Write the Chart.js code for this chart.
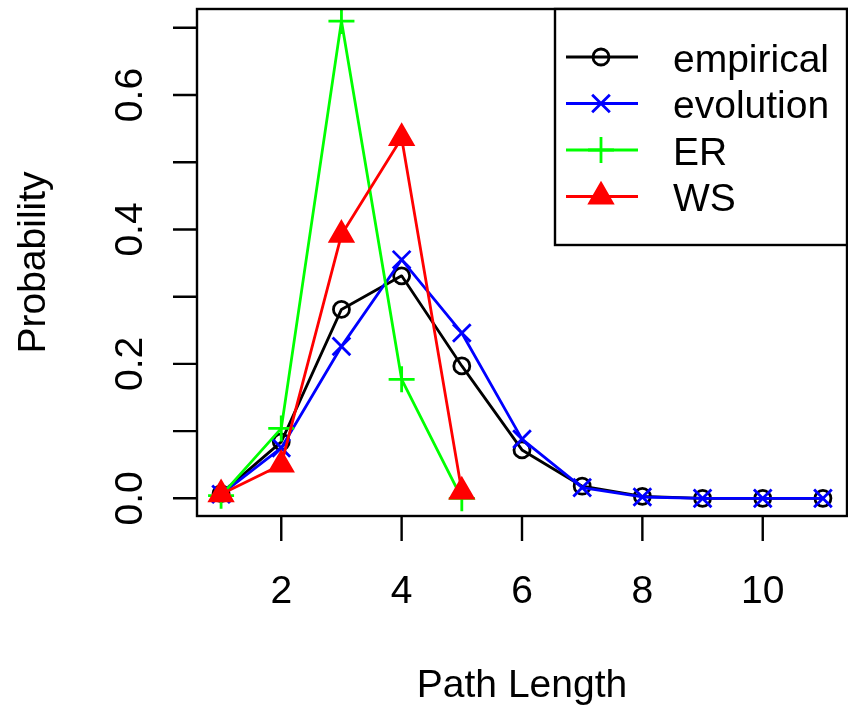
<!DOCTYPE html>
<html>
<head>
<meta charset="utf-8">
<script src="https://cdn.jsdelivr.net/npm/chart.js@4/dist/chart.umd.min.js"></script>
<style>
html,body{margin:0;padding:0;background:#fff;}
canvas{display:block;}
</style>
</head>
<body>
<canvas id="c" width="848" height="706"></canvas>
<script>
// ---- data ----
const pathLength = [1, 2, 3, 4, 5, 6, 7, 8, 9, 10, 11];
const empirical = [0.007, 0.084, 0.281, 0.331, 0.197, 0.072, 0.018, 0.003, 0.0, 0.0, 0.0];
const evolution = [0.006, 0.075, 0.226, 0.355, 0.246, 0.088, 0.016, 0.002, 0.0, 0.0, 0.0];
const erLength = [1, 2, 3, 4, 5];
const er = [0.004, 0.104, 0.710, 0.177, 0.0];
const wsLength = [1, 2, 3, 4, 5];
const ws = [0.006, 0.050, 0.392, 0.536, 0.010];
const seriesNames = ['empirical', 'evolution', 'ER', 'WS'];
const xTicks = [2, 4, 6, 8, 10];
const xTickLabels = ['2', '4', '6', '8', '10'];
const yTicks = [0, 0.1, 0.2, 0.3, 0.4, 0.5, 0.6, 0.7];
const yLabelTicks = [0, 0.2, 0.4, 0.6];
const yTickLabels = ['0.0', '0.2', '0.4', '0.6'];
const xTitle = 'Path Length';
const yTitle = 'Probability';

const FONT = '39px "Liberation Sans", Arial, sans-serif';
const LW = 2.8;
const AXW = 2.4;
const toXY = (xs, ys) => xs.map((x, i) => ({x: x, y: ys[i]}));

const styles = [
  {color: '#000000', pointStyle: 'circle', radius: 8, fill: 'rgba(0,0,0,0)'},
  {color: '#0000ff', pointStyle: 'crossRot', radius: 12.5, fill: '#0000ff'},
  {color: '#00ff00', pointStyle: 'cross', radius: 13, fill: '#00ff00'},
  {color: '#ff0000', pointStyle: 'triangle', radius: 13, fill: '#ff0000'}
];
const seriesData = [toXY(pathLength, empirical), toXY(pathLength, evolution), toXY(erLength, er), toXY(wsLength, ws)];

const datasets = seriesData.map((d, i) => ({
  label: seriesNames[i],
  data: d,
  borderColor: styles[i].color,
  backgroundColor: styles[i].fill,
  borderWidth: LW,
  pointStyle: styles[i].pointStyle,
  pointRadius: styles[i].radius,
  pointHoverRadius: styles[i].radius,
  pointBorderWidth: LW,
  pointBorderColor: styles[i].color,
  pointBackgroundColor: styles[i].fill,
  tension: 0,
  fill: false,
  order: 4 - i
}));

const axesPlugin = {
  id: 'rAxes',
  afterDraw(chart) {
    const ctx = chart.ctx;
    const xs = chart.scales.x, ys = chart.scales.y;
    const a = chart.chartArea;
    ctx.save();
    ctx.strokeStyle = '#000';
    ctx.lineWidth = AXW;
    ctx.lineCap = 'butt';
    // box
    ctx.strokeRect(a.left, a.top, a.right - a.left, a.bottom - a.top);
    // x ticks
    ctx.beginPath();
    xTicks.forEach(v => {
      const px = xs.getPixelForValue(v);
      ctx.moveTo(px, a.bottom);
      ctx.lineTo(px, a.bottom + 25);
    });
    // y ticks
    yTicks.forEach(v => {
      const py = ys.getPixelForValue(v);
      ctx.moveTo(a.left, py);
      ctx.lineTo(a.left - 24, py);
    });
    ctx.stroke();
    ctx.fillStyle = '#000';
    ctx.font = FONT;
    // x labels
    ctx.textAlign = 'center';
    ctx.textBaseline = 'alphabetic';
    xTicks.forEach((v, i) => {
      ctx.fillText(xTickLabels[i], xs.getPixelForValue(v), 603);
    });
    // y labels (rotated)
    yLabelTicks.forEach((v, i) => {
      const py = ys.getPixelForValue(v);
      ctx.save();
      ctx.translate(142, py);
      ctx.rotate(-Math.PI / 2);
      ctx.textAlign = 'center';
      ctx.fillText(yTickLabels[i], 0, 0);
      ctx.restore();
    });
    // titles
    ctx.textAlign = 'center';
    ctx.fillText(xTitle, (a.left + a.right) / 2, 697);
    ctx.save();
    ctx.translate(45, (a.top + a.bottom) / 2);
    ctx.rotate(-Math.PI / 2);
    ctx.fillText(yTitle, 0, 0);
    ctx.restore();

    // legend
    const lx = 555, ly = a.top, lw = a.right - 555, lh = 245 - a.top;
    ctx.fillStyle = '#fff';
    ctx.fillRect(lx, ly, lw, lh);
    ctx.strokeStyle = '#000';
    ctx.lineWidth = AXW;
    ctx.strokeRect(lx, ly, lw, lh);
    const rows = [57, 103.5, 150, 196.5];
    chart.data.datasets.forEach((ds, i) => {
      const y = rows[i];
      ctx.strokeStyle = ds.borderColor;
      ctx.lineWidth = LW;
      ctx.beginPath();
      ctx.moveTo(566, y);
      ctx.lineTo(638, y);
      ctx.stroke();
      ctx.fillStyle = ds.pointBackgroundColor;
      ctx.strokeStyle = ds.borderColor;
      Chart.helpers.drawPoint(ctx, {pointStyle: ds.pointStyle, radius: ds.pointRadius, rotation: 0, borderWidth: LW}, 601, y);
      ctx.fillStyle = '#000';
      ctx.textAlign = 'left';
      ctx.font = FONT;
      ctx.fillText(ds.label, 673, y + 14.5);
    });
    ctx.restore();
  }
};

const bgPlugin = {
  id: 'bg',
  beforeDraw(chart) {
    const ctx = chart.ctx;
    ctx.save();
    ctx.fillStyle = '#fff';
    ctx.fillRect(0, 0, chart.width, chart.height);
    ctx.restore();
  }
};

new Chart(document.getElementById('c'), {
  type: 'line',
  data: {datasets: datasets},
  options: {
    responsive: false,
    animation: false,
    devicePixelRatio: 1,
    layout: {autoPadding: false, padding: {left: 197, right: 1, top: 9, bottom: 190}},
    scales: {
      x: {type: 'linear', min: 0.6, max: 11.4, display: false},
      y: {type: 'linear', min: -0.0263, max: 0.728, display: false}
    },
    plugins: {legend: {display: false}, tooltip: {enabled: false}},
    elements: {line: {borderCapStyle: 'butt', borderJoinStyle: 'round'}}
  },
  plugins: [bgPlugin, axesPlugin]
});
</script>
</body>
</html>
